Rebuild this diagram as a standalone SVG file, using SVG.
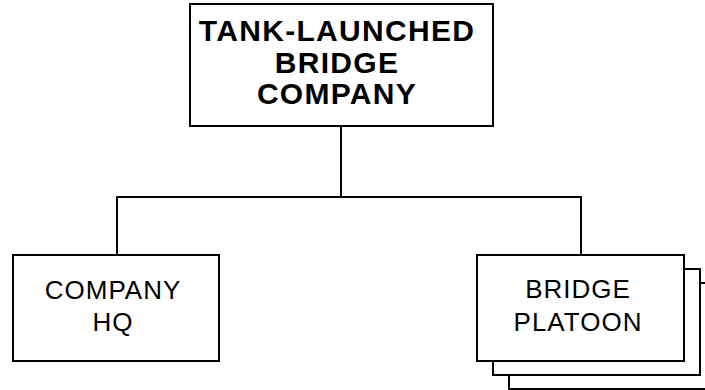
<svg xmlns="http://www.w3.org/2000/svg" width="705" height="390" viewBox="0 0 705 390">
<style>
.box{fill:#fff;stroke:#000;stroke-width:2}
.ln{fill:none;stroke:#000;stroke-width:2}
.t{font-family:"Liberation Sans",Arial,sans-serif;font-size:26px;letter-spacing:1px;fill:#000;text-anchor:middle}
.tb{font-family:"Liberation Sans",Arial,sans-serif;font-size:30px;font-weight:bold;letter-spacing:1.3px;fill:#000;text-anchor:middle}
</style>
<rect width="705" height="390" fill="#fff"/>
<g id="connectors">
<path class="ln" d="M341,126 V197 M117,255 V197 H581 V255"/>
</g>
<g id="tank-launched-bridge-company">
<rect class="box" x="190" y="4" width="303" height="122"/>
<text class="tb" x="337" y="41">TANK-LAUNCHED</text>
<text class="tb" x="337" y="73">BRIDGE</text>
<text class="tb" x="337" y="104">COMPANY</text>
</g>
<g id="company-hq">
<rect class="box" x="13" y="255" width="206" height="106"/>
<text class="t" x="113" y="299">COMPANY</text>
<text class="t" x="113" y="331">HQ</text>
</g>
<g id="bridge-platoon">
<rect class="box" x="509" y="283" width="207" height="106"/>
<rect class="box" x="493" y="269" width="207" height="106"/>
<rect class="box" x="477" y="255" width="207" height="106"/>
<text class="t" x="578" y="298">BRIDGE</text>
<text class="t" x="578" y="331">PLATOON</text>
</g>
</svg>
